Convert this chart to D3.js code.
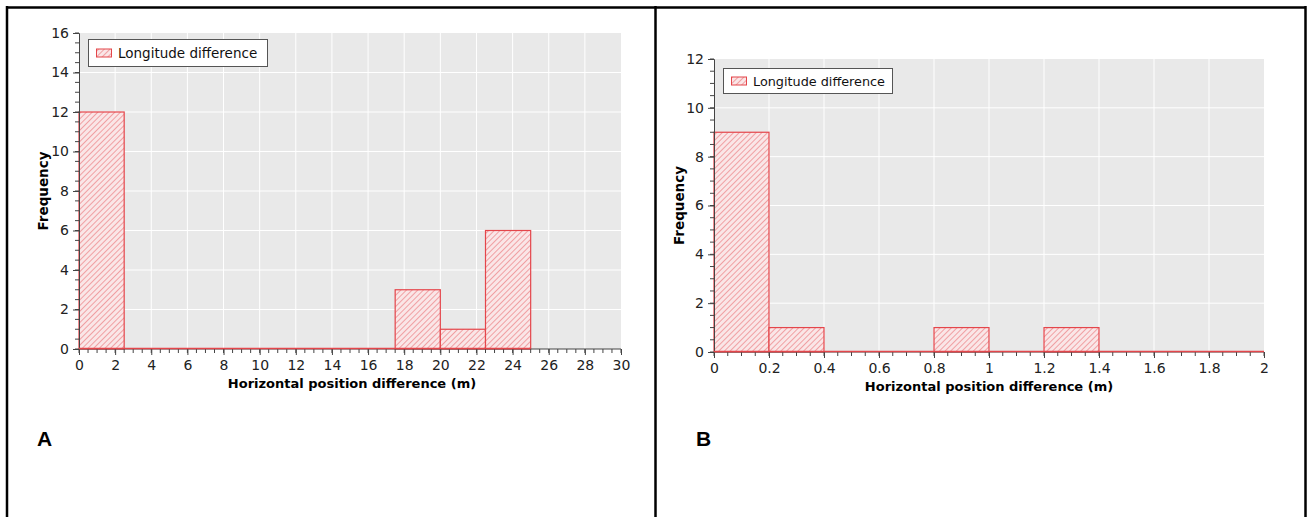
<!DOCTYPE html>
<html>
<head>
<meta charset="utf-8">
<script src="https://cdn.jsdelivr.net/npm/d3@7"></script>
<style>
  html, body { margin: 0; padding: 0; background: #fff; }
  svg { display: block; }
</style>
</head>
<body>
<div id="chart"></div>
<script>
// ---------- data ----------
const edgesA = [0, 2.5, 5, 7.5, 10, 12.5, 15, 17.5, 20, 22.5, 25];
const countsA = [12, 0, 0, 0, 0, 0, 0, 3, 1, 6];
const xTicksA = [0, 2, 4, 6, 8, 10, 12, 14, 16, 18, 20, 22, 24, 26, 28, 30];
const yTicksA = [0, 2, 4, 6, 8, 10, 12, 14, 16];

const edgesB = [0, 0.2, 0.4, 0.6, 0.8, 1, 1.2, 1.4, 1.6, 1.8, 2];
const countsB = [9, 1, 0, 0, 1, 0, 1, 0, 0, 0];
const xTicksB = [0, 0.2, 0.4, 0.6, 0.8, 1, 1.2, 1.4, 1.6, 1.8, 2];
const yTicksB = [0, 2, 4, 6, 8, 10, 12];

const seriesName = 'Longitude difference';
const xTitle = 'Horizontal position difference (m)';
const yTitle = 'Frequency';

const W = 1308, H = 517;
const FONT = '"DejaVu Sans", Tahoma, sans-serif';
const RED = '#e4464b';

const svg = d3.select('#chart').append('svg')
  .attr('width', W).attr('height', H);

// hatch pattern
const defs = svg.append('defs');
const pat = defs.append('pattern')
  .attr('id', 'hatch')
  .attr('patternUnits', 'userSpaceOnUse')
  .attr('width', 4).attr('height', 4)
  .attr('patternTransform', 'rotate(45)');
pat.append('rect').attr('width', 4).attr('height', 4).attr('fill', '#fae6e7');
pat.append('line')
  .attr('x1', 0).attr('y1', 0).attr('x2', 0).attr('y2', 4)
  .attr('stroke', '#e8666a').attr('stroke-width', 1.1);

// ---------- frame ----------
svg.append('line').attr('x1', 7).attr('x2', 1306).attr('y1', 7.5).attr('y2', 7.5)
  .attr('stroke', '#000').attr('stroke-width', 2.5);
svg.append('line').attr('x1', 7).attr('x2', 7).attr('y1', 6).attr('y2', H)
  .attr('stroke', '#000').attr('stroke-width', 2.5);
svg.append('line').attr('x1', 655.5).attr('x2', 655.5).attr('y1', 6).attr('y2', H)
  .attr('stroke', '#000').attr('stroke-width', 2.5);
svg.append('line').attr('x1', 1305.5).attr('x2', 1305.5).attr('y1', 6).attr('y2', H)
  .attr('stroke', '#000').attr('stroke-width', 2.5);

function drawPanel(cfg) {
  const { edges, counts, xTicks, yTicks, left, right, top, bottom,
          xMinorStep, yMinorStep, legend, fmt } = cfg;

  const x = d3.scaleLinear().domain([xTicks[0], xTicks[xTicks.length - 1]]).range([left, right]);
  const y = d3.scaleLinear().domain([0, yTicks[yTicks.length - 1]]).range([bottom, top]);

  const g = svg.append('g');

  // plot background
  g.append('rect')
    .attr('x', left).attr('y', top)
    .attr('width', right - left).attr('height', bottom - top)
    .attr('fill', '#e9e9e9');

  // gridlines
  g.append('g').selectAll('line.vx')
    .data(xTicks.slice(1, -1))
    .join('line')
    .attr('x1', d => x(d)).attr('x2', d => x(d))
    .attr('y1', top).attr('y2', bottom)
    .attr('stroke', '#fff').attr('stroke-width', 1);
  g.append('g').selectAll('line.hy')
    .data(yTicks.slice(1, -1))
    .join('line')
    .attr('x1', left).attr('x2', right)
    .attr('y1', d => y(d)).attr('y2', d => y(d))
    .attr('stroke', '#fff').attr('stroke-width', 1);

  // bars
  const bins = counts.map((c, i) => ({ x0: edges[i], x1: edges[i + 1], c }));
  g.append('g').selectAll('rect')
    .data(bins)
    .join('rect')
    .attr('x', d => x(d.x0))
    .attr('y', d => y(d.c))
    .attr('width', d => x(d.x1) - x(d.x0))
    .attr('height', d => y(0) - y(d.c))
    .attr('fill', 'url(#hatch)')
    .attr('stroke', RED)
    .attr('stroke-width', 1.2);

  // minor ticks
  const xMinor = d3.range(xTicks[0], xTicks[xTicks.length - 1] + 1e-9, xMinorStep);
  const yMinor = d3.range(0, yTicks[yTicks.length - 1] + 1e-9, yMinorStep);
  g.append('g').selectAll('line')
    .data(xMinor)
    .join('line')
    .attr('x1', d => x(d)).attr('x2', d => x(d))
    .attr('y1', bottom).attr('y2', bottom + 4)
    .attr('stroke', '#444');
  g.append('g').selectAll('line')
    .data(yMinor)
    .join('line')
    .attr('x1', left - 4).attr('x2', left)
    .attr('y1', d => y(d)).attr('y2', d => y(d))
    .attr('stroke', '#444');

  // axes
  const xAxis = d3.axisBottom(x).tickValues(xTicks).tickSize(6).tickPadding(5).tickFormat(fmt);
  const yAxis = d3.axisLeft(y).tickValues(yTicks).tickSize(6).tickPadding(4);
  const gx = g.append('g').attr('transform', `translate(0,${bottom})`).call(xAxis);
  const gy = g.append('g').attr('transform', `translate(${left},0)`).call(yAxis);
  [gx, gy].forEach(a => {
    a.select('.domain').attr('stroke', '#444');
    a.selectAll('.tick line').attr('stroke', '#444');
    a.selectAll('.tick text')
      .attr('fill', '#222')
      .style('font-family', FONT)
      .style('font-size', '14px');
  });
  gx.select('.domain').remove();
  g.append('line')
    .attr('x1', left).attr('x2', right).attr('y1', bottom).attr('y2', bottom)
    .attr('stroke', '#444');

  // red baseline along the bins
  g.append('line')
    .attr('x1', x(edges[0])).attr('x2', x(edges[edges.length - 1]))
    .attr('y1', bottom - 0.5).attr('y2', bottom - 0.5)
    .attr('stroke', RED).attr('stroke-width', 1.5);

  // axis titles
  g.append('text')
    .attr('x', (left + right) / 2 - cfg.xTitleShift)
    .attr('y', bottom + 39)
    .attr('text-anchor', 'middle')
    .style('font-family', FONT)
    .style('font-weight', 'bold')
    .style('font-size', '13px')
    .text(xTitle);
  g.append('text')
    .attr('transform', `translate(${cfg.yTitleX},${(top + bottom) / 2 + cfg.yTitleShift}) rotate(-90)`)
    .attr('text-anchor', 'middle')
    .style('font-family', FONT)
    .style('font-weight', 'bold')
    .style('font-size', '13.5px')
    .text(yTitle);

  // legend
  const lg = g.append('g');
  lg.append('rect')
    .attr('x', legend.x + 0.5).attr('y', legend.y + 0.5)
    .attr('width', legend.w).attr('height', legend.h)
    .attr('fill', '#fff').attr('stroke', '#555');
  lg.append('rect')
    .attr('x', legend.x + 8.5).attr('y', legend.y + legend.h / 2 - 3.5)
    .attr('width', 15).attr('height', 8)
    .attr('fill', 'url(#hatch)').attr('stroke', RED);
  lg.append('text')
    .attr('x', legend.x + 30)
    .attr('y', legend.y + legend.h / 2 + 5)
    .style('font-family', FONT)
    .style('font-size', legend.fs + 'px')
    .attr('fill', '#111')
    .text(seriesName);

  // panel letter
  svg.append('text')
    .attr('x', cfg.letterX).attr('y', 446)
    .style('font-family', '"Liberation Sans", Arial, sans-serif')
    .style('font-weight', 'bold')
    .style('font-size', '21px')
    .text(cfg.letter);
}

drawPanel({
  edges: edgesA, counts: countsA, xTicks: xTicksA, yTicks: yTicksA,
  left: 79, right: 621, top: 33, bottom: 349,
  xMinorStep: 0.5, yMinorStep: 0.5,
  fmt: d => d,
  xTitleShift: -2, yTitleX: 48, yTitleShift: 0,
  legend: { x: 88, y: 39, w: 179, h: 27, fs: 13.5 },
  letter: 'A', letterX: 37
});

drawPanel({
  edges: edgesB, counts: countsB, xTicks: xTicksB, yTicks: yTicksB,
  left: 714, right: 1264, top: 59, bottom: 352,
  xMinorStep: 0.05, yMinorStep: 0.5,
  fmt: d => d3.format('~g')(d),
  xTitleShift: 0, yTitleX: 684, yTitleShift: 0,
  legend: { x: 723, y: 68, w: 169, h: 25, fs: 12.8 },
  letter: 'B', letterX: 696
});
</script>
</body>
</html>
